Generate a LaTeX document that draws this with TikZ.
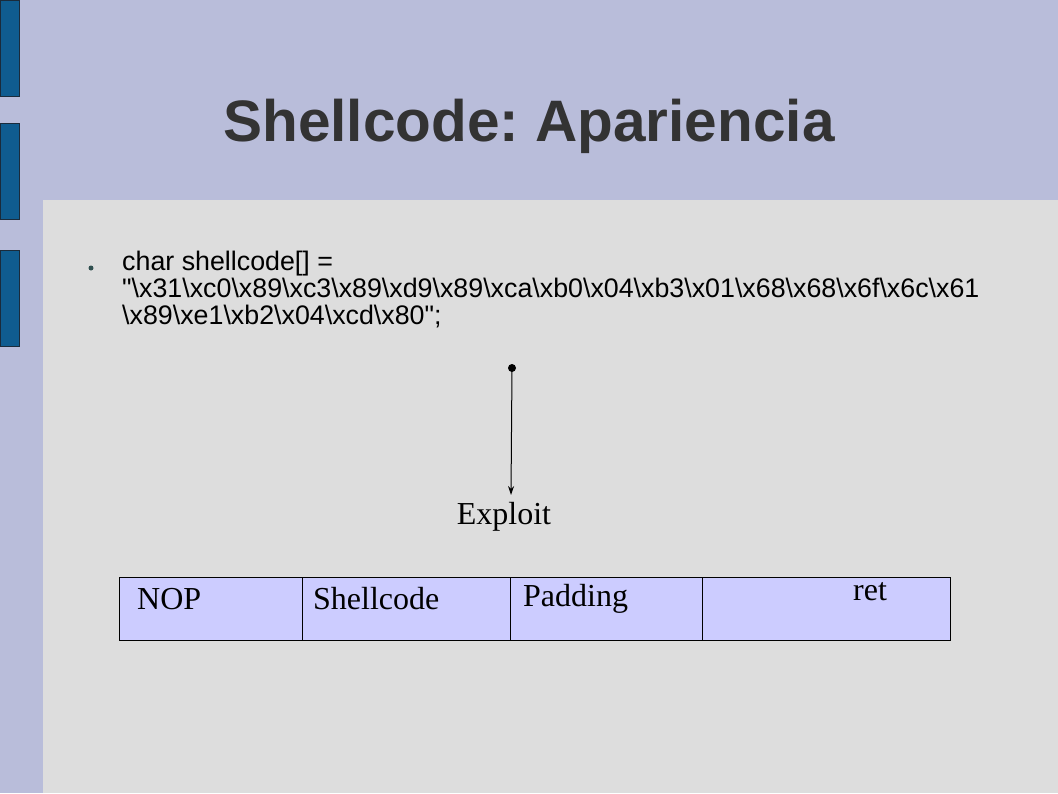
\documentclass[tikz,border=0pt]{standalone}
\usepackage{fontspec}
\setmainfont{Liberation Serif}
\setsansfont{Liberation Sans}
\usetikzlibrary{arrows.meta}
\frenchspacing
\definecolor{bandc}{HTML}{B9BDDA}
\definecolor{pagec}{HTML}{DDDDDD}
\definecolor{barc}{HTML}{0F5C90}
\definecolor{barline}{HTML}{1A2B3C}
\definecolor{titlec}{HTML}{333333}
\definecolor{bulletc}{HTML}{2F4F4F}
\definecolor{cellc}{HTML}{CCCCFF}
\tikzset{
  sidebar/.style={fill=barc,draw=barline,line width=1pt},
  bodytext/.style={anchor=base west,inner sep=0pt,font=\sffamily\fontsize{26.8}{30}\selectfont},
  cell/.style={draw=black,fill=cellc,line width=1pt},
  celltext/.style={anchor=base west,inner sep=0pt,font=\rmfamily\fontsize{32}{36}\selectfont}
}
\begin{document}
\begin{tikzpicture}[x=1pt,y=-1pt]
\useasboundingbox (0,0) rectangle (1058,793);
\fill[bandc] (0,0) rectangle (1058,793);
\fill[pagec] (43,200) rectangle (1058,793);
\draw[sidebar] (0,0) rectangle (19,96);
\draw[sidebar] (0,123) rectangle (19,219);
\draw[sidebar] (0,250) rectangle (19,346);
\node[anchor=base,inner sep=0pt,text=titlec,font=\sffamily\bfseries\fontsize{58.5}{66}\selectfont] (title) at (529,141) {Shellcode: Apariencia};
\fill[bulletc] (91,268) circle (2.5);
\node[bodytext] (l1) at (122,270) {char shellcode[] =};
\node[bodytext] (l2) at (122,297) {\textquotedbl\textbackslash x31\textbackslash xc0\textbackslash x89\textbackslash xc3\textbackslash x89\textbackslash xd9\textbackslash x89\textbackslash xca\textbackslash xb0\textbackslash x04\textbackslash xb3\textbackslash x01\textbackslash x68\textbackslash x68\textbackslash x6f\textbackslash x6c\textbackslash x61};
\node[bodytext] (l3) at (122,324) {\textbackslash x89\textbackslash xe1\textbackslash xb2\textbackslash x04\textbackslash xcd\textbackslash x80\textquotedbl;};
\fill (512,368) circle (4);
\coordinate (src) at (512,368);
\coordinate (tip) at (511,495);
\draw[line width=1pt,-{Stealth[length=9pt,width=6pt]}] (src) -- (tip);
\node[celltext,anchor=base] (exploit) at (504,524) {Exploit};
\draw[cell] (119,577) rectangle (302,640);
\draw[cell] (302,577) rectangle (510,640);
\draw[cell] (510,577) rectangle (702,640);
\draw[cell] (702,577) rectangle (950,640);
\node[celltext] (nop) at (137,609) {NOP};
\node[celltext] (shell) at (313,609) {Shellcode};
\node[celltext] (pad) at (523,606) {Padding};
\node[celltext] (ret) at (853,600) {ret};
\end{tikzpicture}
\end{document}
